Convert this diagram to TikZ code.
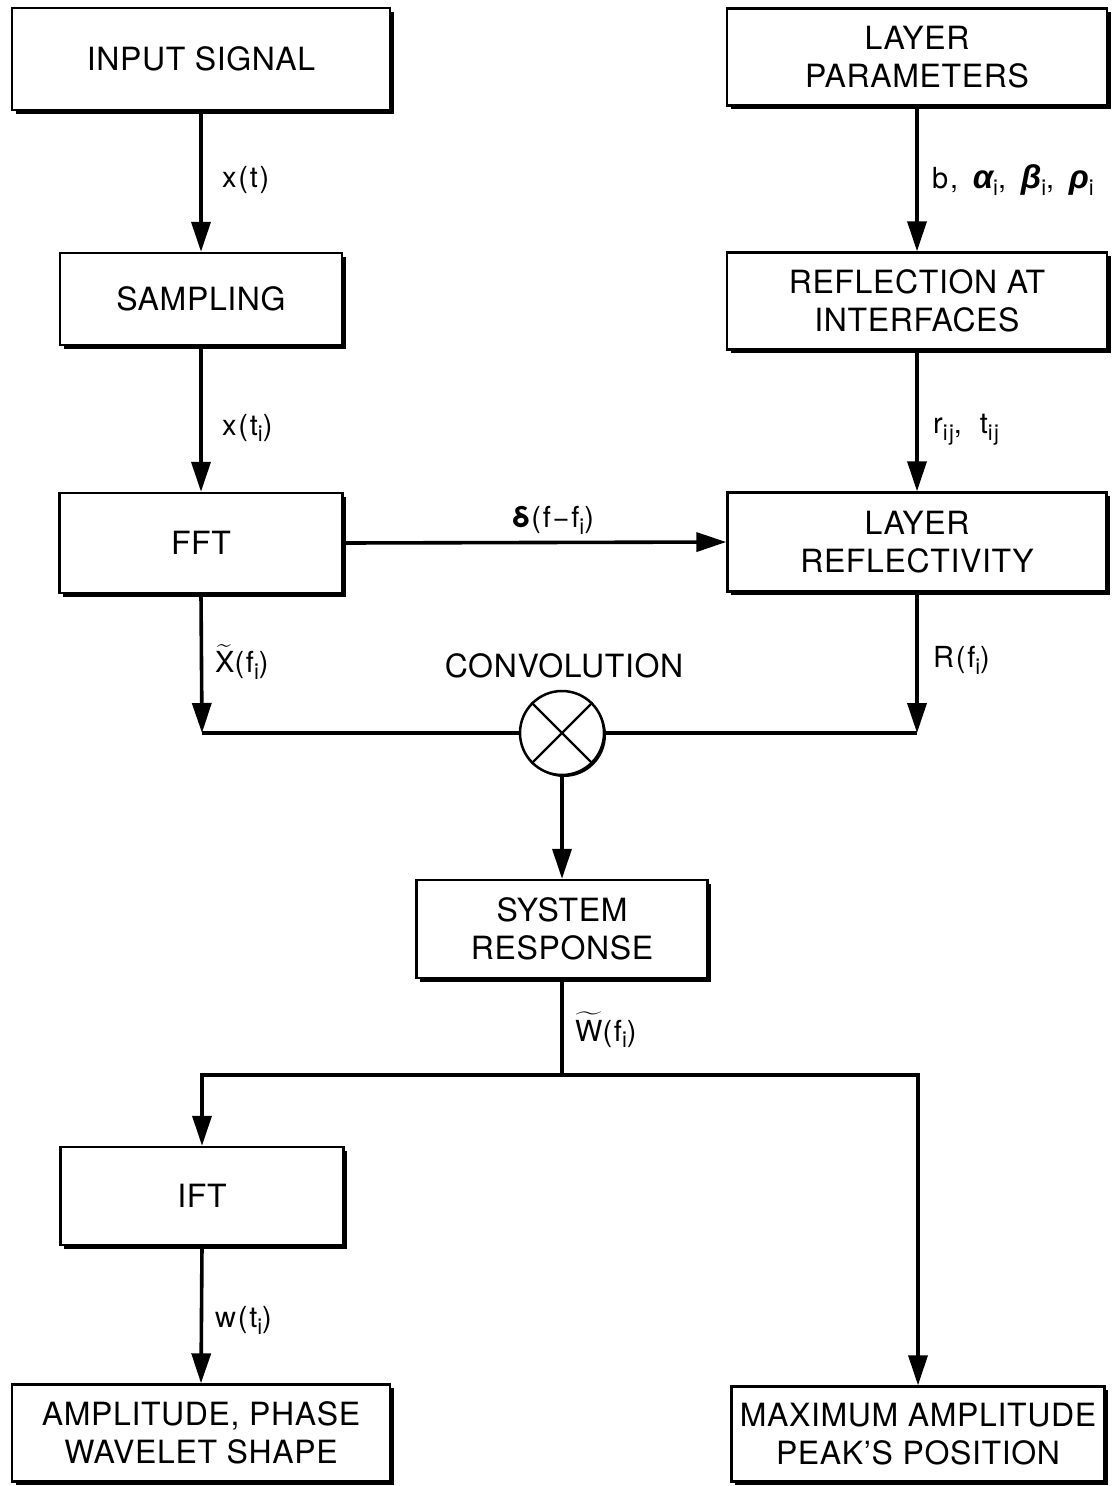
\documentclass[tikz,border=0pt]{standalone}
\usepackage{amsmath}
\usepackage{fontspec}
\setmainfont{TeX Gyre Heros}
\newfontfamily\lblfont[LetterSpace=6]{TeX Gyre Heros}
\newfontfamily\grkfont{Liberation Sans}
\usetikzlibrary{arrows.meta,shadows}
\tikzset{
  blk/.style={draw, line width=2.4pt, fill=white, inner sep=0pt, align=center,
    font=\fontsize{32}{38}\selectfont\addfontfeatures{LetterSpace=2},
    drop shadow={shadow xshift=3.5pt, shadow yshift=-3.5pt, fill=black, opacity=1}},
  ln/.style={line width=3.6pt},
  arr/.style={ln, -{Triangle[length=30pt,width=19pt]}},
  lbl/.style={anchor=west, inner sep=0pt, font=\fontsize{29}{32}\selectfont\lblfont},
}
\newcommand\gk[1]{{\fontsize{33}{33}\selectfont\grkfont\bfseries\itshape #1}}
\newcommand\lsub[1]{\raisebox{-0.45ex}{\fontsize{22}{22}\selectfont #1}}
\begin{document}
\begin{tikzpicture}[x=1pt,y=-1pt]
\useasboundingbox (0,0) rectangle (1112,1486);
% boxes
\node[blk, minimum width=378pt, minimum height=102pt] (in) at (201,59) {INPUT SIGNAL};
\node[blk, minimum width=380pt, minimum height=97pt] (lp) at (917,57) {LAYER\\PARAMETERS};
\node[blk, minimum width=282pt, minimum height=92pt] (samp) at (201,299) {SAMPLING};
\node[blk, minimum width=380pt, minimum height=97pt] (refl) at (917,301) {REFLECTION AT\\INTERFACES};
\node[blk, minimum width=283pt, minimum height=100pt] (fft) at (201,543) {FFT};
\node[blk, minimum width=379pt, minimum height=99pt] (lrefl) at (917,542) {LAYER\\REFLECTIVITY};
\node[circle, draw, line width=2.5pt, fill=white, minimum size=84pt, inner sep=0pt,
  drop shadow={shadow xshift=2pt, shadow yshift=-2pt, fill=black, opacity=1}] (conv) at (562,733) {};
\draw[line width=2.2pt] (conv.45) -- (conv.225) (conv.135) -- (conv.315);
\node[inner sep=0pt, font=\fontsize{32}{38}\selectfont\addfontfeatures{LetterSpace=2}] (convl) at (564,666) {CONVOLUTION};
\node[blk, minimum width=291pt, minimum height=98pt] (sys) at (562,929) {SYSTEM\\RESPONSE};
\node[blk, minimum width=283pt, minimum height=98pt] (ift) at (202,1196) {IFT};
\node[blk, minimum width=378pt, minimum height=97pt] (amp) at (201,1433) {AMPLITUDE, PHASE\\WAVELET SHAPE};
\node[blk, minimum width=373pt, minimum height=95pt] (max) at (918,1434) {MAXIMUM AMPLITUDE\\PEAK'S POSITION};
% junction coordinates
\coordinate (cl) at (202,733);
\coordinate (cr) at (917,733);
\coordinate (j) at (562,1075);
% connectors
\draw[arr] (in.south) -- (samp.north);
\draw[arr] (samp.south) -- (fft.north);
\draw[arr] (lp.south) -- (refl.north);
\draw[arr] (refl.south) -- (lrefl.north);
\draw[arr] (fft.east) -- (lrefl.west);
\draw[arr] (fft.south) -- (cl);
\draw[arr] (lrefl.south) -- (cr);
\draw[ln] (cl) -- (conv.west);
\draw[ln] (cr) -- (conv.east);
\draw[arr] (conv.south) -- (sys.north);
\draw[ln] (sys.south) -- (j);
\draw[arr] (j) -| (ift.north);
\draw[arr] (j) -| (max.north);
\draw[arr] (ift.south) -- (amp.north);
% labels
\node[lbl] (l1) at (222,180) {x(t)};
\node[lbl] (l2) at (222,428) {x(t\lsub{i})};
\node[lbl] (l3) at (932,180) {b,\, \gk{α}\lsub{i},\, \gk{β}\lsub{i},\, \gk{ρ}\lsub{i}};
\node[lbl] (l4) at (933,430) {r\lsub{ij},\; t\lsub{ij}};
\node[lbl, anchor=center] (l5) at (553,520) {\textbf{δ}(f−f\lsub{i})};
\node[lbl] (l6) at (215,662) {$\widetilde{\mbox{X}}$(f\lsub{i})};
\node[lbl] (l7) at (933,660) {R(f\lsub{i})};
\node[lbl] (l8) at (575,1030) {$\widetilde{\mbox{W}}$(f\lsub{i})};
\node[lbl] (l9) at (215,1320) {w(t\lsub{i})};
\end{tikzpicture}
\end{document}
